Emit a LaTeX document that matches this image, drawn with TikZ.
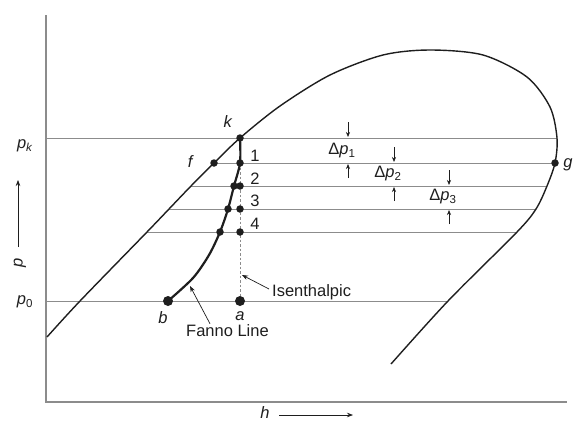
\documentclass[tikz,border=0pt]{standalone}
\usepackage{fontspec}
\setmainfont{Liberation Sans}
\usetikzlibrary{arrows.meta}
\definecolor{Ink}{HTML}{1E1E1E}
\definecolor{Rule}{HTML}{8C8C8C}
\tikzset{
  dome/.style={draw=Ink,line width=1.4pt},
  fanno/.style={draw=Ink,line width=2.2pt},
  level/.style={draw=Rule,line width=0.8pt},
  axis/.style={draw=Rule,line width=1.2pt},
  isen/.style={draw=Rule,line width=0.8pt,dash pattern=on 2.5pt off 2pt},
  dot/.style={circle,fill=Ink,inner sep=0pt,minimum size=7.5pt},
  bigdot/.style={dot,minimum size=10pt},
  lbl/.style={font=\fontsize{16.5}{19}\selectfont,text=Ink,inner sep=1pt},
  pointer/.style={-{Stealth[length=6pt,width=4.5pt]},draw=Ink,line width=0.7pt},
  gap/.style={-{Stealth[length=5pt,width=4pt]},draw=Ink,line width=0.6pt}
}

\begin{document}
\begin{tikzpicture}[x=1pt,y=-1pt]
  \useasboundingbox (0,0) rectangle (573,421);
  % state points
  \coordinate (k) at (240,138);
  \coordinate (f) at (214,163);
  \coordinate (g) at (555,163);
  \coordinate (n1) at (240,163);
  \coordinate (n2) at (240,186);
  \coordinate (n3) at (240,209);
  \coordinate (n4) at (240,232);
  \coordinate (m2) at (234,186);
  \coordinate (m3) at (228,209);
  \coordinate (m4) at (220,232);
  \coordinate (b) at (168,301);
  \coordinate (a) at (240,301);
  % axes
  \draw[axis] (46,15) -- (46,402) -- (567,402);
  % pressure levels
  \foreach \y/\xl/\xr in {138/46/557, 163/214/555, 186/191/547, 209/169/536, 232/147/517, 301/46/448}
    \draw[level] (\xl,\y) -- (\xr,\y);
  % saturation dome
  \draw[dome] plot[smooth,tension=0.5] coordinates {(47,337) (80,301) (147,232) (169,209) (191,186) (f) (k)
    (280,106) (330,75) (383,55) (430,50) (483,55) (527,77) (550,107) (557,138) (g) (547,186) (536,209) (517,232) (448,301) (391,364)};
  % Fanno line and isenthalpic
  \draw[isen] (n1) -- (a);
  \draw[fanno] plot[smooth,tension=0.5] coordinates {(k) (n1) (m2) (m3) (m4) (209,255) (193,278) (b)};
  \foreach \c in {k,f,g,n1,n2,n3,n4,m2,m3,m4}
    \node[dot] at (\c) {};
  \node[bigdot] at (a) {};
  \node[bigdot] at (b) {};
  % pressure drops
  \foreach \x/\ya/\yb in {348/138/163, 394/163/186, 449/186/209} {
    \draw[gap] (\x,\ya-16) -- (\x,\ya-1);
    \draw[gap] (\x,\yb+15) -- (\x,\yb+1);
  }
  \node[lbl] (dp1) at (342,151) {Δ\textit{p}\textsubscript{1}};
  \node[lbl] (dp2) at (388,174) {Δ\textit{p}\textsubscript{2}};
  \node[lbl] (dp3) at (443,197) {Δ\textit{p}\textsubscript{3}};
  % point labels
  \node[lbl] (klbl) at (228,122) {\textit{k}};
  \node[lbl] (flbl) at (191,162) {\textit{f}};
  \node[lbl] (glbl) at (568,165) {\textit{g}};
  \node[lbl] (albl) at (240,316) {\textit{a}};
  \node[lbl] (blbl) at (163,318) {\textit{b}};
  \foreach \i/\y in {1/156, 2/179, 3/201, 4/224}
    \node[lbl] (num\i) at (255,\y) {\i};
  \node[lbl,anchor=west] (isenlbl) at (271,292) {Isenthalpic};
  \node[lbl,anchor=west] (fannolbl) at (185,331) {Fanno Line};
  \coordinate (isentip) at (242,275);
  \coordinate (fannotip) at (190,286);
  \draw[pointer] ([xshift=-2pt,yshift=3pt]isenlbl.west) -- (isentip);
  \draw[pointer] ([xshift=25pt]fannolbl.north west) -- (fannotip);
  % axis labels
  \node[lbl] (pk) at (25,146) {\textit{p}\textsubscript{\textit{k}}};
  \node[lbl] (p0) at (25,302) {\textit{p}\textsubscript{0}};
  \node[lbl,rotate=90] (plbl) at (20,263) {\textit{p}};
  \node[lbl] (hlbl) at (265,413) {\textit{h}};
  \coordinate (pup) at (18,180);
  \coordinate (hright) at (353,415);
  \draw[pointer] (18,247) -- (pup);
  \draw[pointer] (279,415) -- (hright);
\end{tikzpicture}
\end{document}
